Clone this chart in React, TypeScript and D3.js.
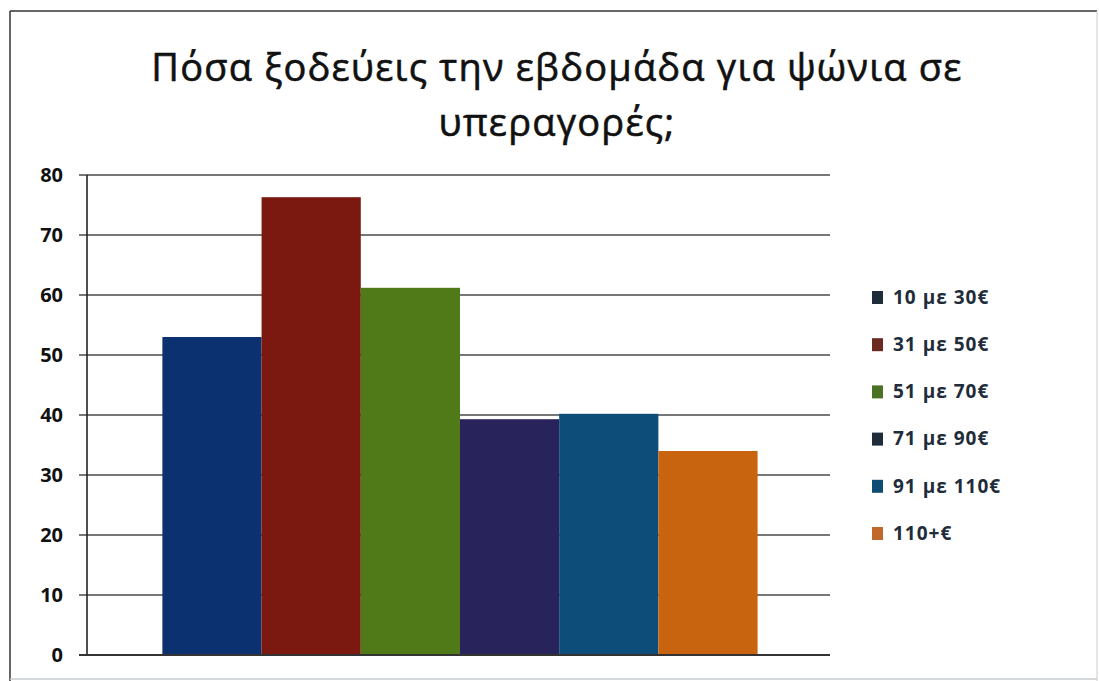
import React from "react";
import * as d3 from "d3";

const titleLines = ["Πόσα ξοδεύεις την εβδομάδα για ψώνια σε", "υπεραγορές;"];
const seriesNames = ["10 με 30€", "31 με 50€", "51 με 70€", "71 με 90€", "91 με 110€", "110+€"];
const seriesValues = [53, 76.3, 61.2, 39.3, 40.2, 34];
const barColors = ["#0b3171", "#7b1810", "#4f7a17", "#28235b", "#0c4d79", "#c8640f"];
const legendColors = ["#1f2d3a", "#6b2820", "#4b7224", "#1f2d3a", "#0f4c74", "#c0692a"];
const yTicks = [0, 10, 20, 30, 40, 50, 60, 70, 80];

const W = 1099;
const H = 681;
const plot = { left: 87, right: 830, top: 175, bottom: 655 };

export default function App() {
  const y = d3.scaleLinear().domain([0, 80]).range([plot.bottom, plot.top]);
  const x = d3
    .scaleBand<string>()
    .domain(seriesNames)
    .range([plot.left, plot.right])
    .paddingInner(0)
    .paddingOuter(0.745)
    .align(0.51);

  return (
    <svg
      width={W}
      height={H}
      style={{ position: "absolute", left: 0, top: 0, background: "#fff" }}
      fontFamily="'Open Sans', sans-serif"
    >
      <rect x={0} y={0} width={W} height={H} fill="#fff" />
      {/* frame */}
      <line x1={10} y1={11} x2={1097} y2={11} stroke="#333" strokeWidth={1.5} />
      <line x1={10} y1={11} x2={10} y2={681} stroke="#333" strokeWidth={1.5} />
      <line x1={1097} y1={11} x2={1097} y2={681} stroke="#ccc" strokeWidth={1} />
      <line x1={10} y1={679} x2={1097} y2={679} stroke="#c8ccd0" strokeWidth={1.5} />

      {/* title */}
      {titleLines.map((t, i) => (
        <text
          key={i}
          x={557}
          y={81 + i * 55}
          textAnchor="middle"
          fontSize={38}
          fontWeight={500}
          letterSpacing={1.2}
          fill="#111"
          stroke="#111"
          strokeWidth={0.6}
        >
          {t}
        </text>
      ))}

      {/* gridlines */}
      {yTicks.map((t) => (
        <line
          key={t}
          x1={79}
          x2={plot.right}
          y1={y(t)}
          y2={y(t)}
          stroke="#4a4a4a"
          strokeWidth={1.6}
        />
      ))}
      {yTicks.map((t) => (
        <text
          key={"l" + t}
          x={63}
          y={y(t)}
          dy="0.36em"
          textAnchor="end"
          fontSize={20}
          fontWeight="bold"
          fill="#111"
        >
          {t}
        </text>
      ))}

      {/* bars */}
      {seriesNames.map((s, i) => (
        <rect
          key={s}
          x={x(s)}
          y={y(seriesValues[i])}
          width={x.bandwidth()}
          height={y(0) - y(seriesValues[i])}
          fill={barColors[i]}
        />
      ))}

      {/* axes */}
      <line x1={plot.left} x2={plot.left} y1={plot.top} y2={plot.bottom} stroke="#222" strokeWidth={1.6} />
      <line x1={79} x2={plot.right} y1={plot.bottom} y2={plot.bottom} stroke="#333" strokeWidth={1.8} />

      {/* legend */}
      {seriesNames.map((s, i) => (
        <g key={"lg" + s} transform={`translate(872, ${297 + i * 47.2})`}>
          <rect x={0} y={-6} width={11} height={13} fill={legendColors[i]} />
          <text x={21} y={0} dy="0.36em" fontSize={19} fontWeight="bold" letterSpacing={1} fill="#1f2d3a">
            {s}
          </text>
        </g>
      ))}
    </svg>
  );
}
